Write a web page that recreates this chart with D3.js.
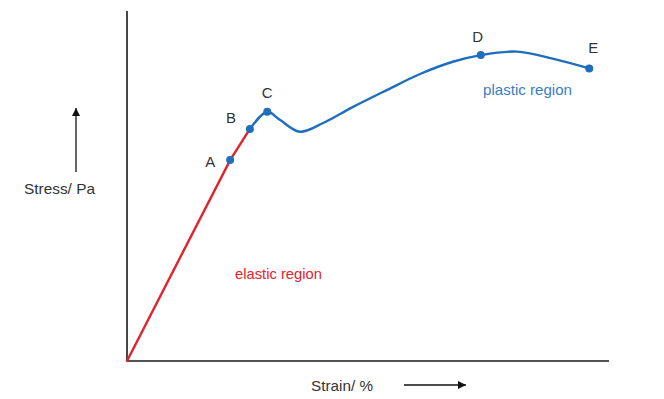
<!DOCTYPE html>
<html>
<head>
<meta charset="utf-8">
<script src="https://cdn.jsdelivr.net/npm/d3@7"></script>
<style>
  html, body { margin: 0; padding: 0; background: #fff; }
  svg text { font-family: "Liberation Sans", Arial, Helvetica, sans-serif; }
</style>
</head>
<body>
<svg id="chart" width="664" height="399"></svg>
<script>
// Strain (% of axis length) and stress (% of axis height)
const elasticStrain = [0, 21.4, 25.5];
const elasticStress = [0, 57.4, 66.3];

const plasticStrain = [25.5, 29.1, 31.7, 35.9, 40.7, 46.9, 53.9, 60.8, 67.6, 73.4, 80.9, 88.3, 95.9];
const plasticStress = [66.3, 71.2, 68.9, 65.5, 68.0, 72.6, 77.4, 82.0, 85.5, 87.4, 88.4, 86.4, 83.6];

const pointLabels = ["A", "B", "C", "D", "E"];
const pointStrain = [21.4, 25.5, 29.1, 73.4, 95.9];
const pointStress = [57.4, 66.3, 71.2, 87.4, 83.6];

const xTitle = "Strain/ %";
const yTitle = "Stress/ Pa";
const elasticLabel = "elastic region";
const plasticLabel = "plastic region";

const svg = d3.select("#chart");
const x = d3.scaleLinear().domain([0, 100]).range([127, 609]);
const y = d3.scaleLinear().domain([0, 100]).range([361, 11]);

const red = "#e2232b";
const blue = "#1f6dbd";

// axes
svg.append("line").attr("x1", x(0)).attr("x2", x(100)).attr("y1", y(0)).attr("y2", y(0))
  .attr("stroke", "#1a1a1a").attr("stroke-width", 1.6);
svg.append("line").attr("x1", x(0)).attr("x2", x(0)).attr("y1", y(0)).attr("y2", y(100))
  .attr("stroke", "#1a1a1a").attr("stroke-width", 1.6);

// arrow marker
const defs = svg.append("defs");
defs.append("marker").attr("id", "arr").attr("viewBox", "0 0 10 10")
  .attr("refX", 10).attr("refY", 5).attr("markerWidth", 13).attr("markerHeight", 8)
  .attr("markerUnits", "userSpaceOnUse").attr("orient", "auto")
  .append("path").attr("d", "M0,0 L10,5 L0,10 Z").attr("fill", "#111");

// axis titles with arrows
svg.append("text").attr("x", 24).attr("y", 194).attr("font-size", 15).attr("fill", "#333")
  .attr("textLength", 71).attr("lengthAdjust", "spacingAndGlyphs").text(yTitle);
svg.append("line").attr("x1", 76).attr("x2", 76).attr("y1", 172).attr("y2", 108)
  .attr("stroke", "#111").attr("stroke-width", 1.3).attr("marker-end", "url(#arr)");

svg.append("text").attr("x", 311).attr("y", 391).attr("font-size", 15).attr("fill", "#333")
  .attr("textLength", 62).attr("lengthAdjust", "spacingAndGlyphs").text(xTitle);
svg.append("line").attr("x1", 404).attr("x2", 466).attr("y1", 385).attr("y2", 385)
  .attr("stroke", "#111").attr("stroke-width", 1.3).attr("marker-end", "url(#arr)");

// curves
const lineGen = d3.line().x(d => x(d[0])).y(d => y(d[1]));
const elastic = elasticStrain.map((s, i) => [s, elasticStress[i]]);
const plastic = plasticStrain.map((s, i) => [s, plasticStress[i]]);

svg.append("path").attr("d", lineGen.curve(d3.curveLinear)(elastic))
  .attr("fill", "none").attr("stroke", red).attr("stroke-width", 2.4).attr("stroke-linecap", "round");
svg.append("path").attr("d", lineGen.curve(d3.curveCatmullRom.alpha(0.5))(plastic))
  .attr("fill", "none").attr("stroke", blue).attr("stroke-width", 2.4).attr("stroke-linecap", "round");

// points
svg.selectAll("circle.pt").data(pointLabels).join("circle").attr("class", "pt")
  .attr("cx", (d, i) => x(pointStrain[i])).attr("cy", (d, i) => y(pointStress[i]))
  .attr("r", 4).attr("fill", blue);

// point labels (offsets relative to points)
const labelOffsets = [[-20, 1], [-19, -11], [0, -19], [-3, -19], [4, -21]];
svg.selectAll("text.pl").data(pointLabels).join("text").attr("class", "pl")
  .attr("x", (d, i) => x(pointStrain[i]) + labelOffsets[i][0])
  .attr("y", (d, i) => y(pointStress[i]) + labelOffsets[i][1])
  .attr("text-anchor", "middle").attr("dominant-baseline", "central")
  .attr("font-size", 15).attr("fill", "#333").text(d => d);

// region labels
svg.append("text").attr("x", 235).attr("y", 279).attr("font-size", 15).attr("fill", red)
  .attr("textLength", 87).attr("lengthAdjust", "spacingAndGlyphs").text(elasticLabel);
svg.append("text").attr("x", 483).attr("y", 95).attr("font-size", 15).attr("fill", "#3a7dc4")
  .attr("textLength", 89).attr("lengthAdjust", "spacingAndGlyphs").text(plasticLabel);
</script>
</body>
</html>
